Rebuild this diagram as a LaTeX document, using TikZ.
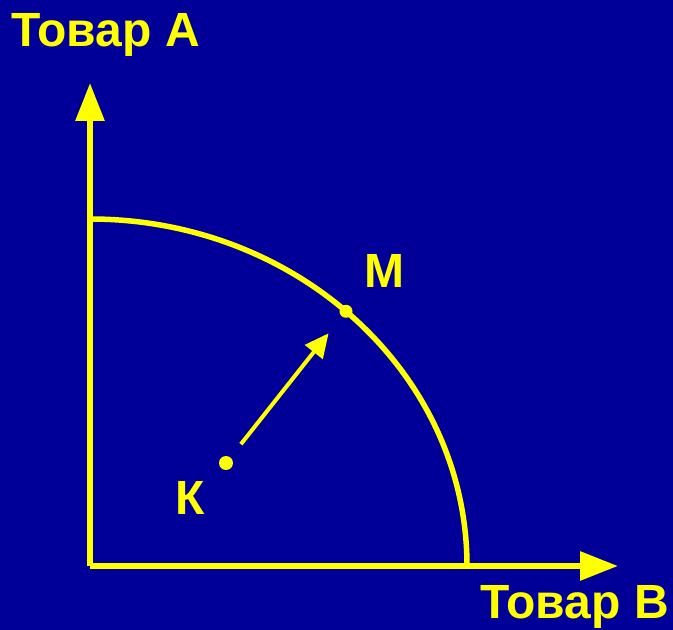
\documentclass[tikz,border=0pt]{standalone}
\usepackage{fontspec}
\setmainfont{Liberation Sans}
\usetikzlibrary{arrows.meta}
\definecolor{bgblue}{RGB}{0,0,153}
\definecolor{ppfyellow}{RGB}{255,255,0}

\begin{document}
\begin{tikzpicture}[x=1pt,y=1pt,
    every node/.style={font=\bfseries\fontsize{48}{50}\selectfont, text=ppfyellow, inner sep=0pt},
    axis/.style={ppfyellow, line width=6pt, -{Triangle[length=38pt,width=28pt]}},
    moveline/.style={ppfyellow, line width=4pt, -{Triangle[length=24pt,width=22pt]}}]
  % background and frame
  \fill[bgblue] (0,0) rectangle (673,630);
  \useasboundingbox (0,0) rectangle (673,630);
  \coordinate (O) at (90,64);
  \coordinate (ytip) at (90,547);
  \coordinate (xtip) at (618,64);
  \coordinate (K) at (226,167);
  \coordinate (M) at (346,318.7);
  % axes
  \draw[axis] (O) -- (ytip);
  \draw[axis] (O) -- (xtip);
  % production possibility curve
  \draw[ppfyellow, line width=5.5pt] (90,411) arc (90:0:377 and 347);
  % points
  \fill[ppfyellow] (K) circle (7);
  \fill[ppfyellow] (M) circle (6.5);
  \draw[moveline, shorten <=24pt, shorten >=28pt] (K) -- (M);
  % labels
  \node[anchor=base west] (goodA) at (11,583) {Товар А};
  \node[anchor=base west] (goodB) at (480,11) {Товар В};
  \node[anchor=base] (labK) at (190,115) {К};
  \node[anchor=base] (labM) at (384.5,342) {М};
\end{tikzpicture}
\end{document}
